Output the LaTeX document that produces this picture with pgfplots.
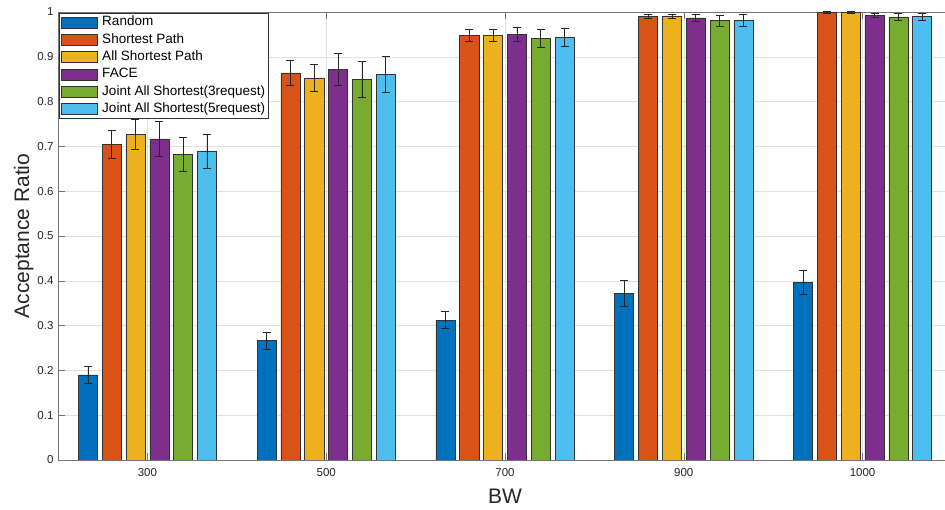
\documentclass[border=0pt]{standalone}
\usepackage{fontspec}
\setmainfont{Liberation Sans}
\usepackage{pgfplots}
\pgfplotsset{compat=1.18}

\definecolor{cA}{HTML}{0072BD}
\definecolor{cB}{HTML}{D95319}
\definecolor{cC}{HTML}{EDB120}
\definecolor{cD}{HTML}{7E2F8E}
\definecolor{cE}{HTML}{77AC30}
\definecolor{cF}{HTML}{4DBEEE}

\pgfplotsset{
  barstyle/.style={
    fill=#1, draw=black!80, line width=0.5pt,
    error bars/.cd, y dir=both, y explicit,
    error bar style={black!85, line width=0.6pt},
    error mark options={rotate=90, mark size=4pt, black!85, line width=0.6pt},
    /pgfplots/.cd,
    legend image code/.code={\draw[fill=#1, draw=black!80, line width=0.5pt] (0pt,-5.5pt) rectangle (36pt,5.5pt);},
  },
}

\begin{document}
\begin{tikzpicture}
\begin{axis}[
  name=ax,
  scale only axis,
  width=894pt, height=448pt,
  xmin=0.5, xmax=5.5, ymin=0, ymax=1,
  ybar, bar width=0.1067,
  xtick={1,2,3,4,5},
  xticklabels={300,500,700,900,1000},
  ytick={0,0.1,...,1.01},
  /pgf/number format/.cd, fixed, precision=1, assume math mode=true,
  /pgfplots/.cd,
  tick align=inside,
  major tick length=7pt,
  tick style={black!55, line width=0.5pt},
  axis line style={black!55, line width=0.6pt},
  xmajorgrids, ymajorgrids,
  major grid style={black!12, line width=0.5pt},
  tick label style={font=\fontsize{11.5}{13}\selectfont, text=black!85},
  yticklabel style={xshift=-1pt},
  xticklabel style={yshift=-5.2pt},
  xlabel={BW},
  ylabel={Acceptance Ratio},
  label style={font=\fontsize{21}{24}\selectfont, text=black!85},
  xlabel style={at={(axis description cs:0.5,0)}, anchor=base, yshift=-44pt},
  ylabel style={at={(axis description cs:-0.0324,0.5)}, anchor=base},
  legend cell align=left,
  legend style={
    at={(0,1)}, anchor=north west, xshift=1pt, yshift=-0.7pt,
    draw=black!80, line width=0.5pt,
    font=\fontsize{13.5}{16}\selectfont,
    row sep=1.3pt, inner xsep=2pt, inner ysep=1.5pt,
    nodes={inner sep=1.5pt, text height=10pt, text depth=3pt},
    /tikz/every odd column/.append style={column sep=3pt},
  },
]
% Random
\addplot+[barstyle=cA, bar shift=-0.3333] coordinates {
  (1,0.190) +- (0,0.019)
  (2,0.267) +- (0,0.019)
  (3,0.312) +- (0,0.019)
  (4,0.372) +- (0,0.028)
  (5,0.396) +- (0,0.027)
};
\addlegendentry{Random}
% Shortest Path
\addplot+[barstyle=cB, bar shift=-0.2] coordinates {
  (1,0.705) +- (0,0.032)
  (2,0.864) +- (0,0.028)
  (3,0.948) +- (0,0.013)
  (4,0.990) +- (0,0.005)
  (5,0.999) +- (0,0.002)
};
\addlegendentry{Shortest Path}
% All Shortest Path
\addplot+[barstyle=cC, bar shift=-0.0667] coordinates {
  (1,0.727) +- (0,0.034)
  (2,0.853) +- (0,0.031)
  (3,0.948) +- (0,0.014)
  (4,0.990) +- (0,0.005)
  (5,0.999) +- (0,0.002)
};
\addlegendentry{All Shortest Path}
% FACE
\addplot+[barstyle=cD, bar shift=0.0667] coordinates {
  (1,0.717) +- (0,0.038)
  (2,0.872) +- (0,0.035)
  (3,0.950) +- (0,0.016)
  (4,0.987) +- (0,0.007)
  (5,0.993) +- (0,0.005)
};
\addlegendentry{FACE}
% Joint All Shortest, 3 requests
\addplot+[barstyle=cE, bar shift=0.2] coordinates {
  (1,0.682) +- (0,0.038)
  (2,0.850) +- (0,0.040)
  (3,0.941) +- (0,0.020)
  (4,0.981) +- (0,0.012)
  (5,0.989) +- (0,0.008)
};
\addlegendentry{Joint All Shortest(3request)}
% Joint All Shortest, 5 requests
\addplot+[barstyle=cF, bar shift=0.3333] coordinates {
  (1,0.690) +- (0,0.038)
  (2,0.860) +- (0,0.040)
  (3,0.943) +- (0,0.020)
  (4,0.982) +- (0,0.013)
  (5,0.990) +- (0,0.008)
};
\addlegendentry{Joint All Shortest(5request)}
\end{axis}
\pgfresetboundingbox
\path[use as bounding box] ([xshift=-58pt,yshift=-50pt]ax.south west) rectangle ([xshift=887pt,yshift=12pt]ax.north west);
\end{tikzpicture}
\end{document}
